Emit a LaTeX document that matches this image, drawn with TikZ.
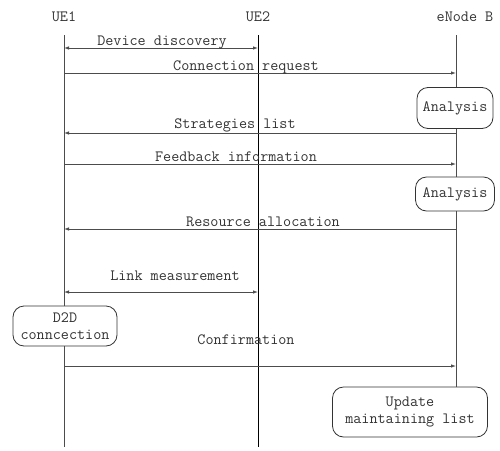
\documentclass[tikz,border=0pt]{standalone}
\usetikzlibrary{arrows.meta}
\begin{document}
\begin{tikzpicture}[x=1pt,y=-1pt,
  every node/.style={font=\ttfamily\fontsize{15.7}{17.5}\selectfont, text=black!80, inner sep=0pt},
  life/.style={draw=black!70, line width=0.8pt},
  msg/.style={draw=black!70, line width=0.8pt, -{Latex[length=5pt,width=3.5pt]}},
  dmsg/.style={draw=black!70, line width=0.8pt, {Latex[length=5pt,width=3.5pt]}-{Latex[length=5pt,width=3.5pt]}},
  proc/.style={draw=black!80, line width=0.8pt, rounded corners=11pt, fill=white, align=center}]
\useasboundingbox (0,0) rectangle (500,450);
% headers
\node (ue1) at (64,17) {UE1};
\node (ue2) at (258,17) {UE2};
\node (enb) at (465,17) {eNode B};
% lifeline coordinates
\coordinate (t1) at (64,35);
\coordinate (t2) at (258,35);
\coordinate (t3) at (456,35);
\coordinate (b1) at (64,447);
\coordinate (b2) at (258,447);
% process boxes
\node[proc, minimum width=76pt, minimum height=41pt] (an1) at (455,108) {Analysis};
\node[proc, minimum width=79pt, minimum height=34pt] (an2) at (455,194) {Analysis};
\node[proc, minimum width=104pt, minimum height=40pt] (d2d) at (65,326) {D2D\\conncection};
\node[proc, minimum width=155pt, minimum height=50pt] (upd) at (410,412) {Update\\maintaining list};
% lifelines
\draw[life] (t1) -- (d2d.north -| t1);
\draw[life] (d2d.south -| t1) -- (b1);
\draw[life, draw=black, line width=1pt] (t2) -- (b2);
\draw[life] (t3) -- (an1.north -| t3);
\draw[life] (an1.south -| t3) -- (an2.north -| t3);
\draw[life] (an2.south -| t3) -- (upd.north -| t3);
% message points
\coordinate (m1a) at (64,48);  \coordinate (m1b) at (258,48);
\coordinate (m2a) at (64,73);  \coordinate (m2b) at (456,73);
\coordinate (m3a) at (456,133); \coordinate (m3b) at (64,133);
\coordinate (m4a) at (64,164); \coordinate (m4b) at (456,164);
\coordinate (m5a) at (456,229); \coordinate (m5b) at (64,229);
\coordinate (m6a) at (64,292); \coordinate (m6b) at (258,292);
\coordinate (m7a) at (64,366); \coordinate (m7b) at (456,366);
% messages
\draw[dmsg] (m1a) -- (m1b);
\draw[msg] (m2a) -- (m2b);
\draw[msg] (m3a) -- (m3b);
\draw[msg] (m4a) -- (m4b);
\draw[msg] (m5a) -- (m5b);
\draw[dmsg] (m6a) -- (m6b);
\draw[msg] (m7a) -- (m7b);
% labels
\node (l1) at (162,42) {Device discovery};
\node (l2) at (246,67) {Connection request};
\node (l3) at (235,125) {Strategies list};
\node (l4) at (236,157) {Feedback information};
\node (l5) at (263,222) {Resource allocation};
\node (l6) at (175,276) {Link measurement};
\node (l7) at (246,340) {Confirmation};
\end{tikzpicture}
\end{document}
